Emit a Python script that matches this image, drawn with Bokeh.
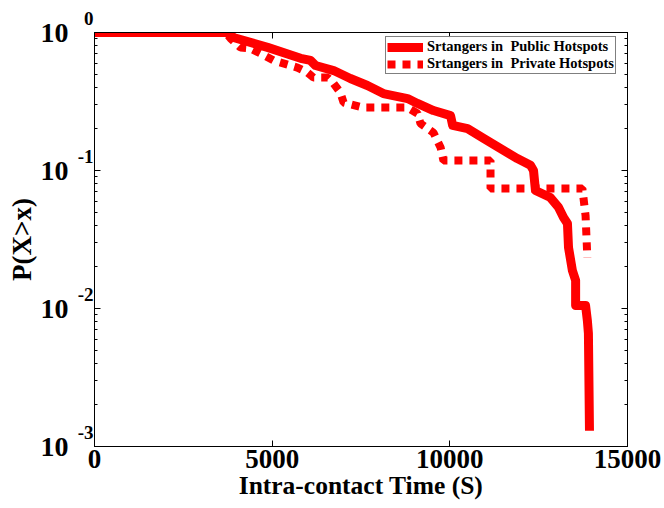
from bokeh.plotting import figure
from bokeh.models import (Range1d, LogAxis, LinearAxis, FixedTicker, LogTicker,
                          CustomJSTickFormatter, Legend, LegendItem)
from bokeh.embed import file_html
from bokeh.resources import INLINE

# Strangers in public hotspots (CCDF)
public_x = [0, 3770, 3910, 4870, 5800, 6080, 6220, 6730, 7200, 7680, 8130, 8810, 9090,
            9540, 10020, 10080, 10500, 10950, 11430, 11900, 12270, 12355, 12410, 12830,
            13060, 13200, 13310, 13340, 13450, 13540, 13540, 13820, 13870, 13900, 13930]
public_p = [1.0, 1.0, 0.92, 0.78, 0.65, 0.627, 0.577, 0.53, 0.464, 0.413, 0.361, 0.332,
            0.306, 0.272, 0.25, 0.212, 0.201, 0.171, 0.144, 0.122, 0.109, 0.10, 0.0716,
            0.0637, 0.054, 0.0456, 0.0413, 0.0277, 0.0188, 0.016, 0.0105, 0.0105, 0.0082,
            0.0066, 0.0013]

# Strangers in private hotspots (CCDF)
private_x = [0, 3690, 3830, 4110, 4390, 4670, 5040, 5710, 5990, 6160, 6560, 6730, 6920,
             7010, 7570, 8810, 9090, 9175, 9540, 9740, 9820, 11145, 11145, 13730, 13820,
             13870]
private_p = [1.0, 1.0, 0.905, 0.778, 0.766, 0.705, 0.627, 0.557, 0.513, 0.472, 0.472,
             0.427, 0.367, 0.311, 0.286, 0.286, 0.259, 0.219, 0.188, 0.147, 0.118, 0.118,
             0.074, 0.074, 0.047, 0.0234]

x_ticks = [0, 5000, 10000, 15000]
y_ticks = [0.001, 0.01, 0.1, 1.0]
y_tick_base = ["10", "10", "10", "10"]
y_tick_exp = ["-3", "-2", "-1", "0"]

legend_labels = ["Srtangers in  Public Hotspots", "Srtangers in  Private Hotspots"]

RED = "#ff0000"
FONT = "Liberation Serif"

p = figure(width=664, height=508, y_axis_type="log",
           x_range=Range1d(0, 15000), y_range=Range1d(0.001, 1.0),
           output_backend="svg", toolbar_location=None,
           min_border_left=94, min_border_right=37, min_border_top=32, min_border_bottom=62)
p.background_fill_color = "white"
p.border_fill_color = "white"
p.outline_line_color = "black"
p.outline_line_width = 1
p.xgrid.visible = False
p.ygrid.visible = False

r1 = p.line(public_x, public_p, line_color=RED, line_width=9, line_join="round")
r2 = p.line(private_x, private_p, line_color=RED, line_width=8, line_dash="8 7",
            line_cap="butt")

JS_PICK = """
let best = 0, bd = 1e9;
for (let i = 0; i < vals.length; i++) {
  const d = Math.abs(Math.log10(vals[i]) - Math.log10(tick));
  if (d < bd) { bd = d; best = i; }
}
"""

xa = p.xaxis[0]
xa.ticker = FixedTicker(ticks=x_ticks)
xa.axis_label = "Intra-contact Time (S)"
xa.major_label_text_font = FONT
xa.major_label_text_font_style = "bold"
xa.major_label_text_font_size = "27px"
xa.major_label_text_color = "black"
xa.axis_label_text_font = FONT
xa.axis_label_text_font_style = "bold"
xa.axis_label_text_font_size = "25.5px"
xa.axis_label_text_color = "black"
xa.major_tick_in = 6
xa.major_tick_out = 0
xa.minor_tick_line_color = None
xa.axis_line_color = "black"
xa.major_tick_line_color = "black"
xa.major_label_standoff = 3
xa.axis_label_standoff = 0

# inner left axis: ticks + exponents (raised with a blank second line)
ya = p.yaxis[0]
ya.ticker = LogTicker(num_minor_ticks=10)
ya.formatter = CustomJSTickFormatter(args=dict(vals=y_ticks, labs=y_tick_exp),
                                     code=JS_PICK + "return labs[best] + '\\n ';")
ya.major_label_text_font = FONT
ya.major_label_text_font_style = "bold"
ya.major_label_text_font_size = "19px"
ya.major_label_text_color = "black"
ya.major_label_text_line_height = 1.3
ya.major_tick_in = 6
ya.major_tick_out = 0
ya.minor_tick_in = 3
ya.minor_tick_out = 0
ya.axis_line_color = "black"
ya.major_tick_line_color = "black"
ya.minor_tick_line_color = "black"
ya.major_label_standoff = 1

# outer left axis: the "10" bases and the axis title
yb = LogAxis(ticker=LogTicker(num_minor_ticks=10),
             formatter=CustomJSTickFormatter(args=dict(vals=y_ticks, labs=y_tick_base),
                                             code=JS_PICK + "return labs[best];"),
             axis_label="P(X>x)", axis_label_text_font=FONT,
             axis_label_text_font_style="bold", axis_label_text_font_size="27px",
             axis_label_text_color="black", axis_label_standoff=1,
             major_label_text_font=FONT, major_label_text_font_style="bold",
             major_label_text_font_size="28px", major_label_text_color="black",
             major_label_standoff=0, axis_line_color=None,
             major_tick_line_color=None, minor_tick_line_color=None)
p.add_layout(yb, "left")

top = LinearAxis(ticker=FixedTicker(ticks=x_ticks), major_label_text_font_size="1px",
                 major_label_text_color=None,
                 major_tick_in=6, major_tick_out=0, minor_tick_line_color=None,
                 axis_line_color="black", major_label_standoff=0)
right = LogAxis(ticker=LogTicker(num_minor_ticks=10), major_label_text_font_size="1px",
                major_label_text_color=None,
                major_tick_in=6, major_tick_out=0, minor_tick_in=3, minor_tick_out=0,
                axis_line_color="black", major_label_standoff=0)
p.add_layout(top, "above")
p.add_layout(right, "right")

legend = Legend(items=[LegendItem(label=legend_labels[0], renderers=[r1]),
                       LegendItem(label=legend_labels[1], renderers=[r2])],
                location=(291, 372), label_text_font=FONT, label_text_font_style="bold",
                label_text_font_size="14.5px", label_text_color="black",
                glyph_width=36, glyph_height=12, label_height=12, label_standoff=4,
                spacing=0, padding=1, margin=0, border_line_color="black",
                border_line_width=1, background_fill_color="white")
p.add_layout(legend, "center")

open("out.html", "w").write(file_html(p, INLINE))
